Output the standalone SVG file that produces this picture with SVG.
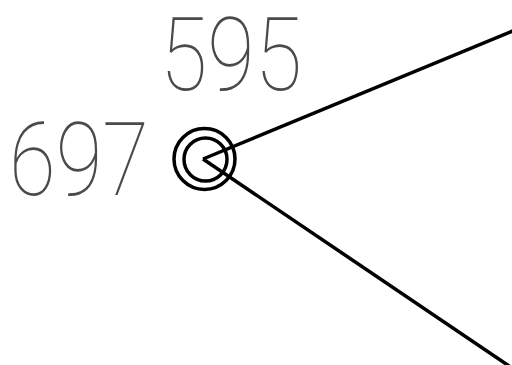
<svg xmlns="http://www.w3.org/2000/svg" width="512" height="365" viewBox="0 0 512 365">
<style>
.lbl{font-family:Roboto,"DejaVu Sans",sans-serif;font-weight:100;font-size:102px;fill:#4a4a4a}
.ln{stroke:#000;stroke-width:3.5;fill:none}
</style>
<rect width="512" height="365" fill="#fff"/>
<g id="labels">
<text class="lbl" x="160" y="90" textLength="142" lengthAdjust="spacingAndGlyphs">595</text>
<text class="lbl" x="9" y="195" textLength="140" lengthAdjust="spacingAndGlyphs">697</text>
</g>
<g id="connectors">
<line class="ln" x1="203" y1="159" x2="515" y2="30"/>
<line class="ln" x1="203" y1="159" x2="512" y2="368"/>
</g>
<g id="node">
<circle class="ln" cx="204.5" cy="159" r="30.5" stroke-width="4"/>
<circle class="ln" cx="205.5" cy="159.5" r="21.5" stroke-width="3.5"/>
</g>
</svg>
